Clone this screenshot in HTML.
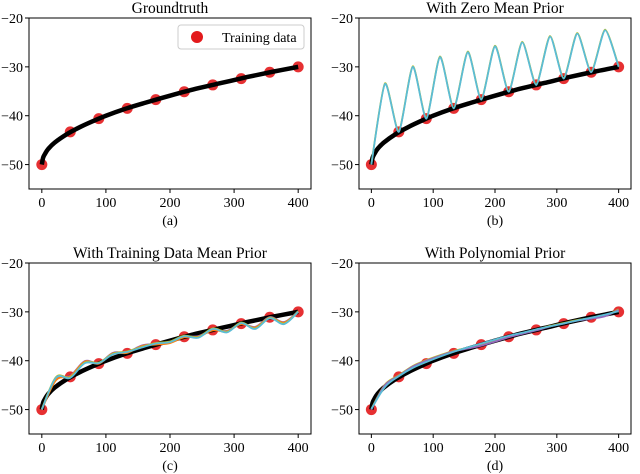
<!DOCTYPE html>
<html><head><meta charset="utf-8"><style>
body{margin:0;background:#fff;}
svg{display:block;font-family:"Liberation Serif",serif;}
</style></head><body>
<svg id="chart" width="640" height="474" viewBox="0 0 640 474"></svg>
<script>
const trainX=[0,44.4,88.9,133.3,177.8,222.2,266.7,311.1,355.6,400];
const trainY=[-50,-43.3,-40.6,-38.5,-36.7,-35.1,-33.7,-32.4,-31.1,-30];
const truthX=[0,2,5,10,20,40,60,80,100,130,160,200,240,280,320,360,400];
const truthY=[-50,-48.6,-47.8,-46.8,-45.5,-43.7,-42.3,-41.1,-40,-38.6,-37.4,-35.9,-34.5,-33.3,-32.1,-31,-30];
const gridX=[0,22,44.4,67,88.9,111,133.3,156,177.8,200,222.2,244,266.7,289,311.1,333,355.6,378,400];
const zeroY=[-50,-33.5,-43.3,-30,-40.6,-28,-38.5,-27,-36.7,-25.8,-35.1,-25,-33.7,-23.8,-32.4,-23.2,-31.1,-22.5,-30];
const meanY=[-50,-43.5,-43.5,-40.5,-40.5,-38.7,-38.2,-37.3,-36.5,-36.2,-35,-35.3,-33.5,-34.2,-32.3,-33.5,-31.3,-32.5,-30];
const meanY2=[-50,-44,-43.2,-40.2,-40.6,-38.5,-38.4,-37,-36.7,-36.4,-35.2,-35.1,-33.8,-34,-32.5,-33.2,-31.2,-32.2,-30];
const polyY=[-50,-45.5,-43.3,-41.6,-40.4,-39.3,-38.3,-37.4,-36.6,-35.8,-35,-34.4,-33.7,-33.1,-32.5,-31.9,-31.3,-30.7,-30];
const polyY2=[-50,-45,-43.1,-41.2,-40,-39,-38.1,-37.5,-36.9,-36.1,-35.2,-34.5,-33.8,-33,-32.4,-31.8,-31.4,-30.9,-29.6];
const xTicks=[0,100,200,300,400];
const yTicks=[-20,-30,-40,-50];
const titles=["Groundtruth","With Zero Mean Prior","With Training Data Mean Prior","With Polynomial Prior"];
const captions=["(a)","(b)","(c)","(d)"];

const NS="http://www.w3.org/2000/svg";
const svg=document.getElementById('chart');
function mk(tag,attrs,parent){const e=document.createElementNS(NS,tag);for(const k in attrs)e.setAttribute(k,attrs[k]);(parent||svg).appendChild(e);return e;}
const panels=[{l:29,r:311,t:18,b:189},{l:359,r:631,t:18,b:189},{l:29,r:311,t:263,b:434},{l:359,r:631,t:263,b:434}];
function smooth(pts,ten){ten=ten||6;let d=`M${pts[0][0]},${pts[0][1]}`;for(let i=0;i<pts.length-1;i++){const p0=pts[Math.max(0,i-1)],p1=pts[i],p2=pts[i+1],p3=pts[Math.min(pts.length-1,i+2)];const c1=[p1[0]+(p2[0]-p0[0])/ten,p1[1]+(p2[1]-p0[1])/ten],c2=[p2[0]-(p3[0]-p1[0])/ten,p2[1]-(p3[1]-p1[1])/ten];d+=` C${c1[0]},${c1[1]} ${c2[0]},${c2[1]} ${p2[0]},${p2[1]}`;}return d;}
panels.forEach((P,i)=>{
  const g=mk('g',{});
  
  
  const xs=v=>P.l+(v+20)/440*(P.r-P.l);
  const ys=v=>P.t+(-20-v)/35*(P.b-P.t);
  const t=mk('text',{x:(P.l+P.r)/2,y:P.t-5,'text-anchor':'middle','font-size':15.5},g);t.textContent=titles[i];
  
  const c=mk('text',{x:(P.l+P.r)/2,y:P.b+36,'text-anchor':'middle','font-size':14},g);c.textContent=captions[i];
  
  xTicks.forEach(v=>{mk('line',{x1:xs(v),x2:xs(v),y1:P.b,y2:P.b+4,stroke:'#000'},g);const tt=mk('text',{x:xs(v),y:P.b+18,'text-anchor':'middle','font-size':14},g);tt.textContent=v;});
  yTicks.forEach(v=>{mk('line',{x1:P.l-4,x2:P.l,y1:ys(v),y2:ys(v),stroke:'#000'},g);const tt=mk('text',{x:P.l-6,y:ys(v)+5,'text-anchor':'end','font-size':14},g);tt.textContent='\u2212'+Math.abs(v);});
  trainX.forEach((x,k)=>{const d=mk('circle',{cx:xs(x),cy:ys(trainY[k]),r:5.5,fill:'#e31a1c',opacity:0.9},g);});
  const tp=mk('path',{d:smooth(truthX.map((x,k)=>[xs(x),ys(truthY[k])])),fill:'none',stroke:'#000','stroke-width':4.5},g);
  
  const sets=i===1?[[zeroY,'#bcbd22'],[zeroY,'#5bbcd6']]:i===2?[[meanY2,'#9467bd'],[meanY2,'#ff7f0e'],[meanY,'#bcbd22'],[meanY,'#5bbcd6']]:i===3?[[polyY2,'#bcbd22'],[polyY2,'#9467bd'],[polyY,'#5bbcd6']]:[];
  sets.forEach(([arr,col],k)=>{const p=mk('path',{d:smooth(gridX.map((x,j)=>[xs(x),ys(arr[j])+(k%2?0:-0.6)]),i===1?9:6),fill:'none',stroke:col,'stroke-width':1.8},g);});
  mk('rect',{x:P.l,y:P.t,width:P.r-P.l,height:P.b-P.t,fill:'none',stroke:'#000','stroke-width':1},g);
  if(i===0){
    const lg=mk('g',{},g);
    mk('rect',{x:178,y:25,width:126,height:24,rx:3,fill:'#fff',stroke:'#ccc'},lg);
    mk('circle',{cx:197,cy:37,r:6,fill:'#e31a1c'},lg);
    const lt=mk('text',{x:222,y:42,'font-size':14},lg);lt.textContent='Training data';
    
  }
});
</script>
</body></html>
